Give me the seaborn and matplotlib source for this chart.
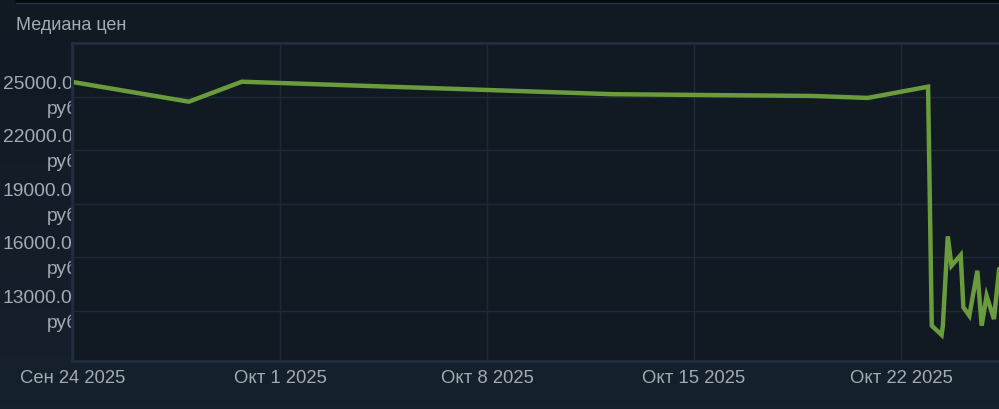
import numpy as np
import pandas as pd
import seaborn as sns
import matplotlib.pyplot as plt
from matplotlib.lines import Line2D
from matplotlib.colors import LinearSegmentedColormap
from matplotlib.transforms import Bbox, TransformedBbox, IdentityTransform, ScaledTranslation

# price history (median price, rub)
dates = ["2025-09-24 00:00", "2025-09-27 22:00", "2025-09-29 17:00", "2025-10-12 05:30",
         "2025-10-19 01:00", "2025-10-20 21:00", "2025-10-22 22:00", "2025-10-23 01:00",
         "2025-10-23 09:00", "2025-10-23 10:00", "2025-10-23 14:00", "2025-10-23 17:00",
         "2025-10-24 00:30", "2025-10-24 02:40", "2025-10-24 07:30", "2025-10-24 14:00",
         "2025-10-24 17:30", "2025-10-24 21:30", "2025-10-25 03:30", "2025-10-25 07:40"]
prices = [25810, 24710, 25830, 25130, 25030, 24920, 25550, 12150,
          11630, 12150, 17160, 15510, 16110, 13180, 12710, 15230,
          12150, 13830, 12520, 15330]

ytick_vals = [13000, 16000, 19000, 22000, 25000]
xtick_dates = ["2025-09-24", "2025-10-01", "2025-10-08", "2025-10-15", "2025-10-22"]
xtick_labels = ["Сен 24 2025", "Окт 1 2025", "Окт 8 2025", "Окт 15 2025", "Окт 22 2025"]
title = "Медиана цен"

df = pd.DataFrame({"date": pd.to_datetime(dates), "price": prices})

bg = "#111923"
grid_c = "#1d2a39"
text_c = "#a3abb3"

sns.set_theme(style="dark")
plt.rcParams['font.family'] = ['Liberation Sans', 'DejaVu Sans']

W, H = 999, 410
fig = plt.figure(figsize=(W / 100, H / 100), dpi=100)
fig.patch.set_facecolor(bg)

# soft bluish glow near the bottom
grad = np.linspace(0, 1, 100).reshape(-1, 1)
bax = fig.add_axes([0, 0, 1, 1], zorder=-5)
bax.imshow(grad, extent=[0, 1, 0, 1], aspect='auto', origin='lower',
           cmap=LinearSegmentedColormap.from_list("g", ["#16212e", bg]))
bax.set_axis_off()

# axes: left 72px, top 44px, bottom 362px, running past the right edge
x0, x1, y0, y1 = 72, 1010, 362, 44
ax = fig.add_axes([x0 / W, (H - y0) / H, (x1 - x0) / W, (y0 - y1) / H])
ax.set_facecolor(bg)

sns.lineplot(data=df, x="date", y="price", ax=ax, color="#6a9b3c", linewidth=3.2,
             solid_joinstyle="miter")

px_per_day = 29.57
start = pd.Timestamp("2025-09-24") - pd.Timedelta(days=1 / px_per_day)
end = start + pd.Timedelta(days=(x1 - x0) / px_per_day)
ax.set_xlim(start, end)
ax.set_ylim(10170, 28000)

ax.set_xticks(pd.to_datetime(xtick_dates))
ax.set_xticklabels(xtick_labels)
ax.set_yticks(ytick_vals)
ax.set_yticklabels([f"{v:.2f}\nруб." for v in ytick_vals])

ax.grid(True, color=grid_c, linewidth=1)
ax.set_xlabel("")
ax.set_ylabel("")
for s in ax.spines.values():
    s.set_visible(True)
    s.set_color("#1f2e40")
    s.set_linewidth(2)

ax.tick_params(axis="x", colors=text_c, labelsize=13.3, pad=6, length=0)
ax.tick_params(axis="y", colors=text_c, labelsize=13.9, pad=-8, length=0)

# labels are cut off where the plot area begins
clip = TransformedBbox(Bbox([[0, 0], [x0 - 1, H]]), IdentityTransform())
lift = ScaledTranslation(0, 6 / 100, fig.dpi_scale_trans)
for lab in ax.get_yticklabels():
    lab.set_linespacing(1.45)
    lab.set_multialignment("right")
    lab.set_transform(lab.get_transform() + lift)
    lab.set_clip_on(True)
    lab.set_clip_box(clip)

fig.text(16 / W, 1 - 26 / H, title, color=text_c, fontsize=13, va="center", ha="left")

# top separator lines
fig.add_artist(Line2D([16 / W, 1], [1 - 1.5 / H, 1 - 1.5 / H], color="#05080c", linewidth=2))
fig.add_artist(Line2D([16 / W, 1], [1 - 3.5 / H, 1 - 3.5 / H], color="#24354a", linewidth=1))

fig.savefig("out.png", dpi=100, facecolor=fig.get_facecolor())
